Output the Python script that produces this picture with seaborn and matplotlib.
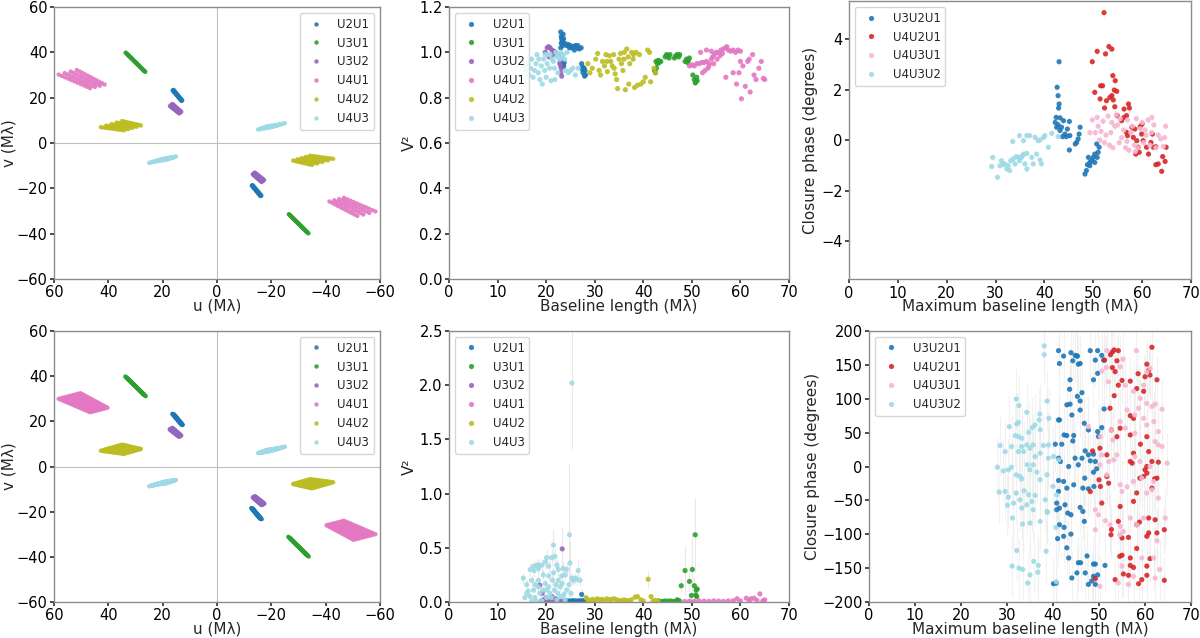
import matplotlib
matplotlib.use("Agg")
import pandas as pd
import seaborn as sns
import matplotlib.pyplot as plt

# %% labels
BASELINES = ['U2U1', 'U3U1', 'U3U2', 'U4U1', 'U4U2', 'U4U3']
TRIANGLES = ['U3U2U1', 'U4U2U1', 'U4U3U1', 'U4U3U2']
BASE_COLORS = ['#1f77b4', '#2ca02c', '#9467bd', '#e377c2', '#bcbd22', '#9edae5']
TRI_COLORS = ['#1f77b4', '#d62728', '#f7b6d2', '#9edae5']

# %% uv tracks (u, v in Mlambda at the central channel), positive-u side
CHAN_TOP = [0.89, 0.912, 0.934, 0.956, 0.978, 1.0, 1.022, 1.044, 1.066, 1.088, 1.11]
CHAN_BOT = [0.89, 0.906, 0.921, 0.937, 0.953, 0.969, 0.984, 1.0, 1.016, 1.031,
            1.047, 1.063, 1.079, 1.094, 1.11]

uv_top_u2u1 = [(14.7, 20.9), (14.4, 21.1)]
uv_top_u3u1 = [(30.3, 35.9), (30.0, 35.6), (29.7, 35.3)]
uv_top_u3u2 = [(15.6, 14.7), (15.2, 15.1), (14.8, 15.5)]
uv_top_u4u1 = [(52.5, 27.2), (50.5, 27.8), (48.5, 28.4), (46.5, 29.0)]
uv_top_u4u2 = [(38.5, 6.3), (36.75, 6.9), (35.0, 7.5), (33.25, 8.1), (31.5, 8.7)]
uv_top_u4u3 = [(22.5, -7.9), (21.0, -7.5), (19.5, -7.2), (18.0, -6.9), (17.0, -6.7)]

uv_bot_u2u1 = [(14.8, 21.0), (14.6, 20.9), (14.4, 20.8), (14.2, 20.7)]
uv_bot_u3u1 = [(30.4, 35.9), (30.1, 35.6), (29.8, 35.3), (29.5, 35.0)]
uv_bot_u3u2 = [(15.7, 14.8), (15.4, 15.0), (15.1, 15.2), (14.8, 15.4)]
uv_bot_u4u1 = [(52.5, 27.0), (51.7, 27.25), (50.9, 27.5), (50.1, 27.75), (49.3, 28.0),
               (48.5, 28.25), (47.7, 28.5), (46.9, 28.75), (46.1, 29.0), (45.3, 29.25)]
uv_bot_u4u2 = [(38.5, 6.3), (37.8, 6.55), (37.1, 6.8), (36.4, 7.05), (35.7, 7.3), (35.0, 7.5),
               (34.3, 7.75), (33.6, 8.0), (32.9, 8.25), (32.2, 8.5), (31.5, 8.7)]
uv_bot_u4u3 = [(22.5, -7.9), (21.8, -7.7), (21.1, -7.5), (20.4, -7.35), (19.7, -7.2),
               (19.0, -7.05), (18.3, -6.9), (17.6, -6.8), (17.0, -6.7)]

# %% V2 (baseline length, V2), calibrator-like dataset
v2_top_u2u1 = [(23.0, 1.09), (23.1, 1.07), (23.2, 1.06), (23.3, 1.05), (23.1, 1.04), (23.4, 1.03),
               (23.0, 1.02), (23.5, 1.08), (23.6, 1.06), (23.8, 1.04), (24.2, 1.03), (24.5, 1.035),
               (25.0, 1.03), (25.3, 1.02), (25.6, 1.025), (26.0, 1.03), (26.4, 1.02), (26.8, 1.015),
               (27.2, 1.02), (25.8, 1.01), (24.8, 1.02), (26.5, 1.03), (23.3, 0.96), (23.5, 0.95),
               (23.6, 0.94), (23.4, 0.935), (23.7, 0.955), (27.3, 0.95), (27.5, 0.935), (27.8, 0.93),
               (28.0, 0.92), (27.6, 0.91), (28.1, 0.90), (27.9, 0.895), (27.4, 0.925), (22.6, 0.99)]
v2_top_u3u1 = [(42.3, 0.92), (42.5, 0.91), (42.7, 0.93), (42.6, 0.96), (42.9, 0.95), (43.1, 0.965),
               (43.3, 0.955), (43.6, 0.96), (44.5, 0.98), (44.8, 0.99), (45.0, 0.985), (45.3, 0.975),
               (45.5, 0.99), (46.4, 0.975), (46.7, 0.985), (47.0, 0.99), (47.3, 0.98), (47.5, 0.99),
               (48.6, 0.96), (48.9, 0.97), (49.1, 0.955), (49.3, 0.965), (49.5, 0.975), (50.2, 0.9),
               (50.5, 0.88), (50.8, 0.87), (51.0, 0.89), (50.7, 0.865), (51.1, 0.875)]
v2_top_u3u2 = [(19.8, 1.0), (20.2, 1.02), (20.5, 1.025), (20.8, 1.02), (21.2, 1.01), (21.6, 1.005),
               (22.0, 1.0), (22.3, 0.99), (20.6, 0.98), (21.4, 0.99), (22.9, 0.96), (23.0, 0.94),
               (23.1, 0.93), (23.0, 0.91), (23.2, 0.895), (22.8, 0.95)]
v2_top_u4u1 = [(49.5, 0.94), (50.0, 0.945), (50.5, 0.94), (51.0, 0.95), (51.5, 0.95), (52.0, 0.955),
               (52.5, 0.955), (53.0, 0.96), (53.3, 0.93), (53.6, 0.95), (54.0, 0.97), (54.3, 0.98),
               (54.6, 0.99), (55.0, 1.0), (55.5, 1.0), (56.0, 1.01), (56.5, 1.015), (57.0, 1.02),
               (57.5, 1.01), (58.0, 1.005), (58.5, 1.01), (59.0, 1.0), (59.5, 1.01), (60.0, 1.005),
               (52.2, 0.91), (52.7, 0.92), (53.5, 0.94), (54.5, 0.95), (55.2, 0.97), (56.3, 0.995),
               (51.8, 1.0), (53.0, 1.01), (54.0, 1.005), (57.2, 1.025), (55.8, 0.985),
               (57.0, 0.89), (58.5, 0.91), (59.2, 0.86), (60.0, 0.96), (60.2, 0.795), (60.5, 0.94),
               (61.0, 0.85), (61.5, 0.96), (62.0, 0.825), (62.5, 0.99), (62.8, 0.9), (63.2, 0.88),
               (63.8, 0.93), (64.3, 0.96), (64.7, 0.885), (65.0, 0.88), (61.8, 0.97), (59.7, 0.91)]
v2_top_u4u2 = [(28.6, 0.95), (29.0, 0.91), (29.5, 0.93), (30.2, 0.97), (30.6, 0.995), (30.9, 0.92),
               (31.2, 0.9), (31.6, 0.96), (32.0, 0.94), (32.3, 0.99), (32.6, 0.915), (33.0, 0.985),
               (33.3, 0.96), (33.6, 0.94), (33.9, 0.99), (34.2, 0.905), (34.5, 0.88), (34.7, 0.84),
               (35.0, 0.97), (35.3, 0.995), (35.5, 0.95), (35.8, 0.92), (36.1, 1.0), (36.3, 0.835),
               (36.6, 1.015), (36.9, 0.98), (37.2, 0.95), (37.0, 0.86), (37.6, 1.0), (37.9, 0.97),
               (38.2, 0.845), (38.5, 1.0), (38.8, 0.855), (39.2, 0.99), (39.5, 0.86), (40.0, 0.87),
               (40.4, 0.89), (40.9, 1.01), (41.3, 1.0), (41.5, 0.87), (42.2, 0.93), (42.5, 0.91),
               (32.5, 0.96), (34.0, 0.93), (36.0, 0.97), (38.0, 0.99)]
v2_top_u4u3 = [(15.5, 0.94), (15.8, 0.92), (16.2, 0.95), (16.5, 0.9), (16.8, 0.93), (17.0, 0.97),
               (17.3, 0.89), (17.6, 0.92), (17.9, 0.95), (18.1, 0.99), (18.4, 0.91), (18.7, 0.88),
               (19.0, 0.94), (19.2, 0.86), (19.5, 0.97), (19.7, 0.92), (20.0, 0.89), (20.2, 0.95),
               (20.5, 0.99), (20.7, 0.93), (21.0, 0.875), (21.2, 0.97), (21.5, 0.96), (21.7, 0.93),
               (22.0, 1.0), (22.2, 0.98), (22.4, 0.91), (22.6, 0.99), (22.8, 0.97), (23.0, 1.0),
               (23.2, 0.98), (23.5, 0.99), (23.8, 0.97), (24.0, 0.92), (24.3, 1.0), (24.6, 0.91),
               (25.0, 0.92), (25.5, 0.93), (26.0, 0.90), (26.6, 0.93), (21.8, 0.88), (20.8, 0.99),
               (19.8, 0.99), (18.5, 0.97)]

# %% V2 (baseline length, V2, error), science target
v2_bot_u2u1 = [(23.6, 0.01, 0.01), (24.0, 0.012, 0.01), (24.4, 0.01, 0.01), (24.8, 0.008, 0.01),
               (25.2, 0.01, 0.01), (25.6, 0.012, 0.01), (26.0, 0.01, 0.01), (26.4, 0.009, 0.01),
               (26.8, 0.011, 0.01), (27.2, 0.01, 0.01), (27.6, 0.012, 0.01), (28.0, 0.01, 0.01),
               (27.3, 0.07, 0.06)]
v2_bot_u3u1 = [(43.2, 0.01, 0.01), (43.8, 0.005, 0.01), (44.4, 0.01, 0.01), (45.0, 0.008, 0.01),
               (45.6, 0.01, 0.01), (46.2, 0.006, 0.01), (46.8, 0.01, 0.01), (47.4, 0.012, 0.01),
               (47.0, 0.02, 0.02), (47.8, 0.15, 0.06), (48.6, 0.29, 0.23), (49.5, 0.19, 0.1),
               (50.1, 0.30, 0.35), (50.5, 0.15, 0.08), (50.7, 0.62, 0.34), (50.9, 0.11, 0.06),
               (51.1, 0.12, 0.05), (50.8, 0.065, 0.04), (51.0, 0.05, 0.03), (49.9, 0.06, 0.04)]
v2_bot_u3u2 = [(18.7, 0.155, 0.05), (19.0, 0.01, 0.01), (19.4, 0.02, 0.01), (19.8, 0.005, 0.01),
               (20.2, 0.015, 0.01), (20.6, 0.01, 0.01), (21.0, 0.02, 0.01), (21.4, 0.03, 0.02),
               (21.8, 0.01, 0.01), (22.2, 0.02, 0.01), (22.6, 0.005, 0.01), (23.0, 0.01, 0.01),
               (23.3, 0.49, 0.2), (20.0, 0.04, 0.02), (21.2, 0.05, 0.02), (22.0, 0.03, 0.02),
               (19.2, 0.08, 0.03)]
v2_bot_u4u1 = [(48.5, 0.005, 0.005), (49.5, 0.008, 0.005), (50.5, 0.006, 0.005), (51.5, 0.01, 0.005),
               (52.5, 0.008, 0.005), (53.5, 0.006, 0.005), (54.5, 0.01, 0.005), (55.5, 0.008, 0.005),
               (56.5, 0.006, 0.005), (57.5, 0.01, 0.005), (58.5, 0.012, 0.005), (59.3, 0.03, 0.01),
               (60.0, 0.01, 0.005), (61.2, 0.035, 0.01), (61.8, 0.015, 0.005), (62.2, 0.03, 0.01),
               (62.8, 0.035, 0.01), (63.4, 0.015, 0.005), (64.0, 0.075, 0.02), (64.6, 0.01, 0.005),
               (65.0, 0.02, 0.01)]
v2_bot_u4u2 = [(28.2, 0.04, 0.01), (28.6, 0.02, 0.01), (29.0, 0.01, 0.01), (29.5, 0.025, 0.01),
               (30.0, 0.015, 0.01), (30.5, 0.03, 0.01), (31.0, 0.02, 0.01), (31.5, 0.025, 0.01),
               (32.0, 0.015, 0.01), (32.5, 0.03, 0.01), (33.0, 0.02, 0.01), (33.5, 0.025, 0.01),
               (34.0, 0.03, 0.01), (34.5, 0.02, 0.01), (35.0, 0.015, 0.01), (35.5, 0.01, 0.01),
               (36.0, 0.02, 0.01), (36.5, 0.015, 0.01), (37.0, 0.01, 0.01), (37.5, 0.02, 0.01),
               (38.3, 0.045, 0.02), (38.8, 0.05, 0.02), (39.5, 0.02, 0.01), (40.0, 0.01, 0.01),
               (41.0, 0.21, 0.08), (41.6, 0.05, 0.02), (42.0, 0.01, 0.01), (42.5, 0.015, 0.01),
               (43.0, 0.01, 0.01)]
v2_bot_u4u3 = [(25.3, 2.02, 0.62), (24.8, 0.62, 0.65), (21.5, 0.525, 0.15), (24.9, 0.36, 0.2),
               (26.6, 0.29, 0.1), (15.3, 0.22, 0.05), (16.0, 0.16, 0.05), (16.7, 0.30, 0.06),
               (17.0, 0.20, 0.05), (17.4, 0.33, 0.06), (18.1, 0.34, 0.06), (18.4, 0.31, 0.06),
               (19.1, 0.34, 0.06), (19.8, 0.37, 0.07), (20.1, 0.41, 0.08), (20.5, 0.33, 0.06),
               (21.1, 0.41, 0.08), (21.8, 0.42, 0.08), (22.2, 0.34, 0.06), (22.5, 0.30, 0.06),
               (23.2, 0.24, 0.05), (23.9, 0.25, 0.05), (24.2, 0.30, 0.06), (25.3, 0.22, 0.05),
               (25.6, 0.20, 0.05), (25.9, 0.22, 0.05), (26.3, 0.21, 0.05), (27.0, 0.20, 0.05),
               (16.3, 0.10, 0.03), (16.7, 0.05, 0.03), (17.4, 0.11, 0.03), (17.7, 0.04, 0.03),
               (18.4, 0.14, 0.04), (18.7, 0.08, 0.03), (19.4, 0.11, 0.03), (19.8, 0.17, 0.04),
               (20.1, 0.04, 0.03), (20.5, 0.14, 0.04), (20.8, 0.08, 0.03), (21.3, 0.20, 0.05),
               (21.7, 0.11, 0.03), (22.0, 0.16, 0.04), (22.4, 0.08, 0.03), (22.9, 0.14, 0.04),
               (23.3, 0.17, 0.04), (23.7, 0.07, 0.03), (24.2, 0.11, 0.03), (24.7, 0.16, 0.04),
               (25.1, 0.08, 0.03), (15.6, 0.04, 0.02), (17.0, 0.005, 0.02), (18.0, 0.005, 0.02),
               (19.1, 0.01, 0.02), (20.1, 0.11, 0.03), (21.1, 0.04, 0.02), (22.2, 0.02, 0.02),
               (23.1, 0.05, 0.02), (23.9, 0.02, 0.02), (18.4, 0.20, 0.05), (19.4, 0.25, 0.05),
               (20.5, 0.24, 0.05), (21.5, 0.27, 0.05), (22.5, 0.20, 0.05), (23.5, 0.31, 0.06),
               (17.7, 0.16, 0.04), (17.5, 0.29, 0.06), (18.5, 0.34, 0.06), (16.0, 0.08, 0.03)]

# %% closure phase (max baseline length, CP in degrees), calibrator-like dataset
cp_top_321 = [(43.0, 3.10), (42.6, 2.09), (42.8, 1.76), (43.0, 1.43), (42.9, 1.27), (42.4, 0.9),
              (43.2, 0.88), (42.2, 0.7), (42.8, 0.61), (43.5, 0.51), (43.9, 0.77), (43.2, 0.38),
              (44.2, 0.24), (44.7, 0.44), (45.1, 0.74), (44.5, 0.14), (45.1, -0.39), (45.2, 0.18),
              (46.3, -0.15), (46.9, 0.05), (47.3, 0.51), (47.1, 0.24), (46.6, -0.09), (43.7, 0.14),
              (42.5, 0.51), (48.3, -1.34), (48.6, -1.2), (49.3, -1.01), (49.0, -0.68), (49.7, -0.81),
              (50.0, -0.68), (50.3, -0.55), (50.7, -0.15), (51.0, -0.48), (51.2, -0.28),
              (49.3, -0.88), (50.3, -0.88), (50.8, -0.68), (48.8, -0.97)]
cp_top_421 = [(52.2, 5.04), (49.8, 3.10), (50.8, 3.51), (52.5, 3.41), (53.2, 3.70), (53.8, 3.6),
              (50.3, 1.89), (51.5, 2.15), (51.9, 2.15), (54.0, 2.55), (54.5, 2.35), (51.4, 1.63),
              (52.7, 1.56), (53.4, 1.69), (53.8, 1.76), (54.3, 1.98), (54.8, 1.93), (54.1, 1.59),
              (52.3, 1.27), (54.4, 1.32), (54.9, 0.97), (55.8, 0.77), (56.3, 1.23), (57.2, 1.43),
              (57.4, 1.27), (56.8, 0.97), (56.3, 0.9), (57.9, 0.51), (58.5, 0.44), (59.6, 0.53),
              (60.0, 0.64), (58.9, -0.02), (59.9, 0.24), (60.2, -0.02), (59.2, -0.28), (58.7, -0.55),
              (59.4, -0.48), (60.9, -0.28), (61.3, -0.55), (61.8, -0.09), (62.3, -0.28),
              (62.8, -0.26), (62.1, 0.24), (64.2, -0.65), (63.3, -0.94), (62.8, -0.97),
              (64.0, -1.23), (64.9, -0.28), (64.7, -0.84), (57.0, 0.18), (58.2, 0.11), (56.8, 0.31)]
cp_top_431 = [(49.8, 0.8), (50.4, 0.3), (51.0, 0.55), (51.6, 0.35), (52.0, 0.75), (52.6, 0.2),
              (53.0, 0.95), (53.3, -0.2), (53.6, 0.3), (54.0, -0.3), (54.4, 0.55), (54.7, 1.0),
              (55.0, 0.6), (55.3, -0.1), (55.8, 0.1), (56.2, 0.4), (56.6, -0.3), (57.0, 0.8),
              (57.3, -0.4), (57.7, 0.3), (58.0, 0.55), (58.4, -0.2), (58.8, 0.85), (59.2, -0.3),
              (59.6, 0.45), (60.0, 0.7), (60.3, -0.1), (60.8, 0.2), (61.2, 0.8), (61.6, -0.2),
              (62.0, 0.9), (62.4, 0.6), (62.8, -0.3), (63.3, 0.2), (63.8, 0.05), (64.3, -0.25),
              (64.8, 0.55), (64.6, 0.1), (49.3, 0.3), (50.8, 0.9), (52.3, -0.1), (55.5, 0.85),
              (56.9, -0.05), (58.6, -0.45), (60.6, 0.4), (61.9, 0.3), (53.8, 0.7), (51.3, 0.0)]
cp_top_432 = [(29.4, -0.68), (29.2, -1.04), (30.4, -1.47), (31.2, -0.81), (30.9, -1.01), (31.9, -0.94),
              (32.3, -1.14), (32.6, -1.01), (32.9, -1.2), (33.6, -0.74), (33.5, -0.05), (34.0, -0.94),
              (34.7, -0.68), (34.9, 0.18), (35.3, -0.68), (35.7, -0.02), (35.8, -0.55), (36.0, -0.94),
              (36.4, 0.18), (36.4, -1.14), (37.0, 0.18), (37.4, -0.68), (37.7, -0.94), (38.1, 0.11),
              (38.4, -0.55), (38.7, -0.02), (39.1, -0.78), (39.4, -0.94), (39.8, 0.11), (40.1, 0.18),
              (40.8, -0.28), (41.5, 0.27), (42.8, 0.14), (34.9, -0.81), (34.2, -0.65), (33.1, -0.81),
              (31.6, -0.97), (36.4, -0.52), (35.5, -0.61), (39.1, 0.01)]

# %% closure phase, science target
cp_bot_321 = [(41.2, 171), (41.4, 152), (42.3, 163), (43.9, 168), (44.3, 156), (44.8, 164),
              (45.2, 163), (45.3, 163), (45.5, 151), (45.9, 152), (46.3, 109), (43.7, 128),
              (43.6, 114), (43.0, 91), (43.7, 92), (45.3, 103.5), (45.9, 96.7), (45.9, 83.4),
              (44.1, 76), (42.4, 46.6), (43.0, 45.7), (44.3, 37.7), (44.5, 45.7), (46.8, 63.8),
              (47.7, 54), (41.2, 68.7), (41.4, 68.7), (40.5, 32.9), (41.9, 32.9), (41.2, 12.3),
              (41.6, 7.4), (43.4, 0), (44.8, 12.3), (45.5, 2.5), (46.3, 12.3), (47.0, 23),
              (47.7, 17.2), (48.1, 8.4), (49.2, 7.4), (48.8, 18.2), (49.7, 51.5), (49.9, 44.2),
              (50.6, 57.4), (48.8, 128), (49.2, 157), (49.7, 137.5), (51.0, 157), (49.7, 171),
              (48.1, 171), (50.6, 164), (51.1, 84.9), (41.2, -20.6), (42.3, -22.1), (41.2, -36.8),
              (43.0, -31.9), (44.5, -27.0), (46.5, -31.9), (46.9, -17.2), (47.7, -32.9),
              (48.9, -29.5), (49.5, -3.4), (48.8, -8.4), (40.8, -54), (41.4, -61.4), (40.8, -63.8),
              (42.6, -56.5), (43.2, -68.7), (43.9, -71.2), (45.9, -60.4), (46.5, -66.3),
              (46.8, -81), (41.4, -85.9), (42.4, -89.8), (42.3, -103), (43.9, -99.8),
              (41.0, -106.5), (43.0, -120), (43.4, -135), (45.5, -142), (46.0, -142), (47.4, -132),
              (48.8, -144), (49.2, -144), (49.7, -160), (48.8, -162), (47.7, -174), (48.4, -169),
              (47.0, -157), (45.2, -157), (44.1, -164.5), (40.7, -172), (40.1, -173), (51.3, -146),
              (49.2, -174)]
cp_bot_421 = [(61.5, 176), (54.2, 171), (52.5, 165), (52.9, 169), (53.3, 172), (51.2, 157),
              (53.9, 156), (52.9, 146), (53.5, 140), (60.4, 151), (60.8, 142), (56.8, 126),
              (62.6, 128), (55.0, 127), (58.2, 115), (59.7, 111), (54.2, 120), (53.3, 104.5),
              (58.5, 137), (61.1, 135), (60.0, 132.5), (52.4, 86), (56.8, 75), (57.5, 71),
              (52.7, 54), (54.6, 56.5), (53.9, 44), (56.8, 46.6), (59.0, 32.9), (57.5, 19.6),
              (60.4, 44), (60.8, 22), (48.6, 23), (50.2, 27), (51.7, 17.2), (56.8, 7.4),
              (57.2, 4.9), (60.4, 0), (61.5, 7.4), (62.9, 6.4), (60.4, -9.8), (59.7, -14.7),
              (58.9, -17.2), (62.1, -18.2), (62.6, -17.2), (51.7, -14.7), (52.1, -24.6),
              (50.0, -19.6), (50.3, -29.5), (48.1, -37), (50.6, -54), (57.5, -51.5), (54.6, -59),
              (60.8, -76), (58.8, -82), (58.2, -85.9), (62.2, -78.6), (64.2, -93.3), (62.6, -98),
              (60.8, -98), (54.2, -81), (52.7, -93), (52.6, -100.7), (55.0, -105.5), (56.4, -104.6),
              (60.4, -103), (54.5, -132.6), (55.0, -131), (56.8, -135), (58.2, -121), (61.1, -136),
              (60.4, -147), (57.5, -149), (55.3, -158.6), (56.4, -160.6), (53.5, -167), (58.6, -173),
              (59.3, -167), (49.2, -165.5), (64.2, -168), (60.4, -160.6), (56.8, -146), (58.2, -39),
              (61.5, -31.9), (60.0, -4.9)]
cp_bot_431 = [(51.7, 171), (55.2, 158.5), (58.1, 171), (54.6, 147), (51.6, 146), (50.6, 141),
              (52.1, 125), (55.7, 120), (57.5, 111), (59.7, 120), (60.4, 139), (61.1, 145),
              (62.2, 92), (60.4, 93), (59.0, 100.6), (58.6, 86), (61.5, 88.6), (57.8, 76),
              (59.7, 71), (61.9, 66.3), (62.9, 51.5), (63.7, 84.5), (56.1, 83.4), (54.6, 66.3),
              (55.7, 56.5), (57.8, 49), (60.4, 61.4), (62.2, 36.8), (63.7, 29.5), (52.7, 54),
              (47.7, 58.8), (50.3, 44), (53.0, 39.2), (50.6, 17.2), (52.1, 7.4), (53.2, 9.8),
              (53.9, 17.2), (57.8, 14.7), (58.9, 7.4), (62.9, 31.9), (64.8, 4.9), (50.2, 2.5),
              (51.7, -12.3), (61.1, 0), (54.6, -27), (56.1, -30), (57.5, -22.1), (55.0, -36.8),
              (59.3, -17.2), (60.4, -39.3), (61.5, -34.4), (61.9, -22.1), (62.9, -46.6),
              (49.2, -63.8), (49.9, -71.2), (51.4, -80), (52.4, -86), (54.5, -100.6), (55.3, -95.8),
              (54.6, -88.4), (56.8, -76), (58.2, -85.9), (59.7, -76), (64.4, -76), (62.6, -109.5),
              (61.9, -135), (59.3, -135), (55.0, -147), (57.5, -162), (54.2, -172), (50.2, -177),
              (62.2, -164.5), (63.2, -152), (49.2, -93.3), (56.4, -174)]
cp_bot_432 = [(38.1, 178), (38.1, 165), (32.0, 99.6), (32.6, 89.8), (37.1, 77.5), (34.3, 80),
              (38.7, 96.6), (30.5, 58.8), (32.1, 62.8), (32.5, 65.2), (36.1, 61.3), (37.0, 68.7),
              (39.1, 71.1), (34.7, 50.5), (35.5, 57.4), (37.2, 54.4), (31.8, 45.6), (32.5, 44.1),
              (33.2, 41.7), (28.5, 30.9), (29.6, 22.0), (31.0, 29.4), (33.2, 29.4), (34.3, 31.9),
              (35.7, 31.9), (37.9, 30.9), (39.0, 31.9), (32.5, 22.0), (33.6, 22.0), (35.0, 27.0),
              (36.1, 14.7), (37.2, 19.6), (39.0, 12.3), (40.1, 14.7), (27.9, -1.0), (29.2, -6.4),
              (30.3, -4.9), (31.0, -1.0), (32.0, -12.3), (32.8, -14.7), (33.2, -18.2), (34.4, 2.5),
              (35.0, -4.9), (35.7, 2.5), (36.5, -8.3), (37.2, -19.6), (38.7, -12.3), (40.0, -29.5),
              (28.3, -37.8), (29.6, -36.8), (30.3, -45.2), (32.0, -39.3), (32.8, -49.1),
              (33.7, -35.8), (34.7, -41.7), (35.4, -51.5), (36.1, -42.7), (38.3, -49.1),
              (30.1, -57.4), (31.4, -54.0), (33.2, -61.4), (34.3, -56.5), (35.7, -63.8),
              (38.7, -66.3), (31.2, -76.1), (33.4, -85.0), (35.0, -83.5), (37.2, -81.0),
              (38.8, -67.8), (32.1, -124), (38.5, -125), (31.1, -147), (32.6, -150), (33.4, -152),
              (35.8, -140), (36.8, -146), (35.0, -160), (36.7, -156), (34.5, -172), (40.7, -170),
              (40.6, -90), (40.8, -42), (41.2, 9.8)]
cp_bot_err = [40, 35, 45, 45]

FS_TICK, FS_LABEL, FS_LEG = 10.5, 11, 8.5

sns.set_theme(style="ticks", rc={"axes.edgecolor": "0.55", "axes.linewidth": 1.0,
                                 "xtick.color": "0.2", "ytick.color": "0.2",
                                 "xtick.labelcolor": "black", "ytick.labelcolor": "black",
                                 "xtick.major.size": 3, "ytick.major.size": 3})
plt.rcParams['font.family'] = ['DejaVu Sans']

base_pal = dict(zip(BASELINES, BASE_COLORS))
tri_pal = dict(zip(TRIANGLES, TRI_COLORS))

fig = plt.figure(figsize=(12, 6.38), dpi=100)
ax_uv1 = fig.add_axes([0.045, 0.5627, 0.2717, 0.4263])
ax_v21 = fig.add_axes([0.3742, 0.5627, 0.2833, 0.4263])
ax_cp1 = fig.add_axes([0.7075, 0.5622, 0.285, 0.4362])
ax_uv2 = fig.add_axes([0.045, 0.0564, 0.2717, 0.4248])
ax_v22 = fig.add_axes([0.3742, 0.0564, 0.2833, 0.4248])
ax_cp2 = fig.add_axes([0.7242, 0.0564, 0.2683, 0.4248])


def uv_plot(ax, tracks, chans):
    rows = []
    for name, track in zip(BASELINES, tracks):
        for u, v in track:
            for f in chans:
                rows.append((name, f * u, f * v))
                rows.append((name, -f * u, -f * v))
    df = pd.DataFrame(rows, columns=['baseline', 'u', 'v'])
    ax.axhline(0, color='0.75', lw=0.8, zorder=0)
    ax.axvline(0, color='0.75', lw=0.8, zorder=0)
    sns.scatterplot(data=df, x='u', y='v', hue='baseline', hue_order=BASELINES,
                    palette=base_pal, s=10, linewidth=0, alpha=0.9, ax=ax)
    ax.set_xlim(60, -60)
    ax.set_ylim(-60, 60)
    ax.set_xticks(range(60, -61, -20))
    ax.set_yticks(range(-60, 61, 20))
    ax.set_xlabel('u (M\u03bb)', fontsize=FS_LABEL, labelpad=-1)
    ax.set_ylabel('v (M\u03bb)', fontsize=FS_LABEL, labelpad=0)
    sns.move_legend(ax, 'upper right', title=None, fontsize=FS_LEG, frameon=True)


def point_plot(ax, series, names, pal, xcol, ycol, errs=None, ecolor='0.9'):
    rows = []
    for name, pts in zip(names, series):
        for p in pts:
            rows.append((name, p[0], p[1], p[2] if len(p) > 2 else 0.0))
    df = pd.DataFrame(rows, columns=['set', xcol, ycol, 'err'])
    if errs is not None:
        for name, e in zip(names, errs):
            df.loc[df['set'] == name, 'err'] = e
    if df['err'].max() > 0:
        ax.errorbar(df[xcol], df[ycol], yerr=df['err'], fmt='none', ecolor=ecolor,
                    elinewidth=0.8, alpha=0.7, zorder=1)
    sns.scatterplot(data=df, x=xcol, y=ycol, hue='set', hue_order=names, palette=pal,
                    s=14, linewidth=0, alpha=0.9, ax=ax, zorder=2)
    ax.set_xlim(0, 70)
    sns.move_legend(ax, 'upper left', title=None, fontsize=FS_LEG, frameon=True)


uv_plot(ax_uv1, [uv_top_u2u1, uv_top_u3u1, uv_top_u3u2, uv_top_u4u1, uv_top_u4u2, uv_top_u4u3],
        CHAN_TOP)
uv_plot(ax_uv2, [uv_bot_u2u1, uv_bot_u3u1, uv_bot_u3u2, uv_bot_u4u1, uv_bot_u4u2, uv_bot_u4u3],
        CHAN_BOT)

point_plot(ax_v21, [v2_top_u2u1, v2_top_u3u1, v2_top_u3u2, v2_top_u4u1, v2_top_u4u2, v2_top_u4u3],
           BASELINES, base_pal, 'B', 'V2')
ax_v21.set_ylim(0, 1.2)
ax_v21.set_yticks([0.0, 0.2, 0.4, 0.6, 0.8, 1.0, 1.2])

point_plot(ax_v22, [v2_bot_u2u1, v2_bot_u3u1, v2_bot_u3u2, v2_bot_u4u1, v2_bot_u4u2, v2_bot_u4u3],
           BASELINES, base_pal, 'B', 'V2', ecolor='0.88')
ax_v22.set_ylim(0, 2.5)
ax_v22.set_yticks([0.0, 0.5, 1.0, 1.5, 2.0, 2.5])

point_plot(ax_cp1, [cp_top_321, cp_top_421, cp_top_431, cp_top_432], TRIANGLES, tri_pal,
           'Bmax', 'CP', errs=[0.15, 0.2, 0.15, 0.1], ecolor='0.94')
ax_cp1.set_ylim(-5.5, 5.5)
ax_cp1.set_yticks([-4, -2, 0, 2, 4])

point_plot(ax_cp2, [cp_bot_321, cp_bot_421, cp_bot_431, cp_bot_432], TRIANGLES, tri_pal,
           'Bmax', 'CP', errs=cp_bot_err, ecolor='0.93')
ax_cp2.set_ylim(-200, 200)
ax_cp2.set_yticks(range(-200, 201, 50))

for ax in (ax_v21, ax_v22):
    ax.set_xlabel('Baseline length (M\u03bb)', fontsize=FS_LABEL, labelpad=-1)
    ax.set_ylabel('V\u00b2', fontsize=FS_LABEL, labelpad=2)
for ax in (ax_cp1, ax_cp2):
    ax.set_xlabel('Maximum baseline length (M\u03bb)', fontsize=FS_LABEL, labelpad=-1)
    ax.set_ylabel('Closure phase (degrees)', fontsize=FS_LABEL, labelpad=2)

for ax in fig.axes:
    ax.tick_params(labelsize=FS_TICK, pad=1.5)

fig.savefig('out.png', dpi=100)
